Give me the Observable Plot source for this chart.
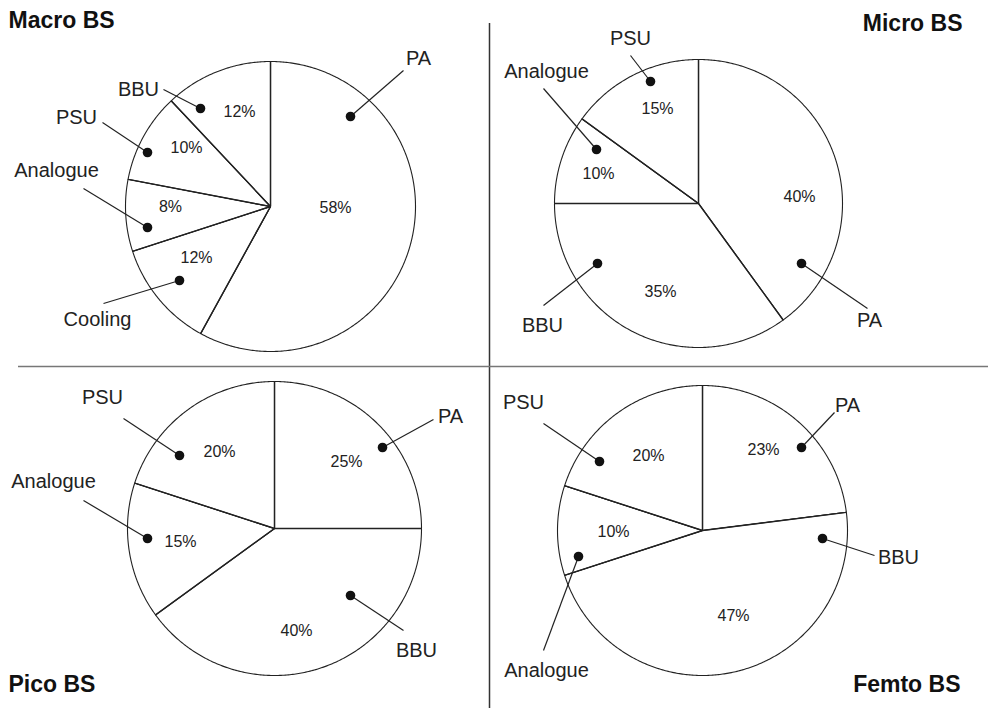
<!DOCTYPE html>
<html><head><meta charset="utf-8">
<script src="https://cdn.jsdelivr.net/npm/d3@7"></script>
<script src="https://cdn.jsdelivr.net/npm/@observablehq/plot@0.6"></script>
<style>body{margin:0;background:#fff} #chart svg{display:block}</style>
</head><body><div id="chart"></div>
<script>
// ---- data ----
const pieNames = ["Macro BS", "Micro BS", "Pico BS", "Femto BS"];
const macroCategories = ["PA", "Cooling", "Analogue", "PSU", "BBU"];
const macroValues = [58, 12, 8, 10, 12];
const microCategories = ["PA", "BBU", "Analogue", "PSU"];
const microValues = [40, 35, 10, 15];
const picoCategories = ["PA", "BBU", "Analogue", "PSU"];
const picoValues = [25, 40, 15, 20];
const femtoCategories = ["PA", "BBU", "Analogue", "PSU"];
const femtoValues = [23, 47, 10, 20];

// ---- layout (pixel positions of pies & annotations) ----
const layout = {
  "Macro BS": {cx: 270, cy: 206, r: 145, title: [8, 20, "start"],
    ann: {
      PA:       {pct: [335, 207], dot: [350, 116], end: [403, 70],  lab: [418, 58]},
      Cooling:  {pct: [196, 257], dot: [179, 280], end: [103, 303], lab: [97, 319]},
      Analogue: {pct: [170, 206], dot: [147, 227], end: [83, 188],  lab: [56, 170]},
      PSU:      {pct: [186, 147], dot: [147, 152], end: [102, 122], lab: [76, 117]},
      BBU:      {pct: [239, 111], dot: [200, 108], end: [163, 89],  lab: [138, 89]}
    }},
  "Micro BS": {cx: 698, cy: 203, r: 144, title: [962, 23, "end"],
    ann: {
      PA:       {pct: [799, 196], dot: [801, 263], end: [867, 308], lab: [869, 320]},
      BBU:      {pct: [660, 291], dot: [597, 263], end: [543, 305], lab: [542, 325]},
      Analogue: {pct: [598, 173], dot: [596, 149], end: [543, 88],  lab: [546, 71]},
      PSU:      {pct: [657, 108], dot: [650, 81],  end: [630, 55],  lab: [630, 38]}
    }},
  "Pico BS": {cx: 274, cy: 528, r: 147, title: [8, 684, "start"],
    ann: {
      PA:       {pct: [346, 461], dot: [382, 447], end: [433, 419], lab: [450, 416]},
      BBU:      {pct: [296, 630], dot: [350, 595], end: [403, 630], lab: [416, 650]},
      Analogue: {pct: [180, 541], dot: [147, 538], end: [83, 500],  lab: [53, 481]},
      PSU:      {pct: [219, 451], dot: [179, 455], end: [123, 418], lab: [102, 397]}
    }},
  "Femto BS": {cx: 702, cy: 530, r: 145, title: [960, 684, "end"],
    ann: {
      PA:       {pct: [763, 449], dot: [801, 447], end: [834, 412], lab: [847, 405]},
      BBU:      {pct: [733, 615], dot: [822, 538], end: [874, 555], lab: [898, 557]},
      Analogue: {pct: [613, 531], dot: [578, 556], end: [543, 650], lab: [546, 670]},
      PSU:      {pct: [648, 455], dot: [599, 461], end: [543, 423], lab: [523, 402]}
    }}
};

const seriesByPie = {
  "Macro BS": [macroCategories, macroValues],
  "Micro BS": [microCategories, microValues],
  "Pico BS": [picoCategories, picoValues],
  "Femto BS": [femtoCategories, femtoValues]
};

// ---- build tables ----
const wedgePts = [], spokes = [], pctLabels = [], dots = [], leaders = [], catLabels = [], titles = [];
for (const name of pieNames) {
  const [cats, vals] = seriesByPie[name];
  const L = layout[name];
  const total = d3.sum(vals);
  let acc = 0;
  cats.forEach((c, i) => {
    const a0 = acc / total * 2 * Math.PI;
    acc += vals[i];
    const a1 = acc / total * 2 * Math.PI;
    const key = name + "|" + c;
    wedgePts.push({key, x: L.cx, y: L.cy});
    const n = Math.max(2, Math.ceil((a1 - a0) / 0.01));
    for (let k = 0; k <= n; k++) {
      const a = a0 + (a1 - a0) * k / n;
      wedgePts.push({key, x: L.cx + L.r * Math.sin(a), y: L.cy - L.r * Math.cos(a)});
    }
    spokes.push({x1: L.cx, y1: L.cy, x2: L.cx + L.r * Math.sin(a0), y2: L.cy - L.r * Math.cos(a0)});
    const an = L.ann[c];
    pctLabels.push({x: an.pct[0], y: an.pct[1], text: vals[i] + "%"});
    dots.push({x: an.dot[0], y: an.dot[1]});
    leaders.push({x1: an.dot[0], y1: an.dot[1], x2: an.end[0], y2: an.end[1]});
    catLabels.push({x: an.lab[0], y: an.lab[1], text: c});
  });
  titles.push({x: L.title[0], y: L.title[1], anchor: L.title[2], text: name});
}

const chart = Plot.plot({
  width: 988, height: 708, margin: 0,
  x: {domain: [0, 988], range: [0, 988], axis: null},
  y: {domain: [0, 708], range: [0, 708], axis: null},
  style: {fontFamily: "'Liberation Sans', Arial, Helvetica, sans-serif", background: "#fff", color: "#222"},
  marks: [
    Plot.ruleX([489], {y1: 23, y2: 708, stroke: "#333", strokeWidth: 1.5}),
    Plot.ruleY([366], {x1: 18, x2: 988, stroke: "#777", strokeWidth: 1.5}),
    Plot.line(wedgePts, {x: "x", y: "y", z: "key", curve: "linear-closed", fill: "white", stroke: "#222", strokeWidth: 1.1}),
    Plot.link(spokes, {x1: "x1", y1: "y1", x2: "x2", y2: "y2", stroke: "#222", strokeWidth: 1.4}),
    Plot.link(leaders, {x1: "x1", y1: "y1", x2: "x2", y2: "y2", stroke: "#222", strokeWidth: 1.2}),
    Plot.dot(dots, {x: "x", y: "y", r: 4.8, fill: "#111", stroke: null}),
    Plot.text(pctLabels, {x: "x", y: "y", text: "text", fontSize: 16, fill: "#222", textAnchor: "middle", lineAnchor: "middle"}),
    Plot.text(catLabels, {x: "x", y: "y", text: "text", fontSize: 20, fill: "#222", textAnchor: "middle", lineAnchor: "middle"}),
    Plot.text(titles.filter(d => d.anchor === "start"), {x: "x", y: "y", text: "text", fontSize: 23, fontWeight: "bold", fill: "#111", textAnchor: "start", lineAnchor: "middle"}),
    Plot.text(titles.filter(d => d.anchor === "end"), {x: "x", y: "y", text: "text", fontSize: 23, fontWeight: "bold", fill: "#111", textAnchor: "end", lineAnchor: "middle"})
  ]
});
document.getElementById("chart").appendChild(chart);
</script>
</body></html>
